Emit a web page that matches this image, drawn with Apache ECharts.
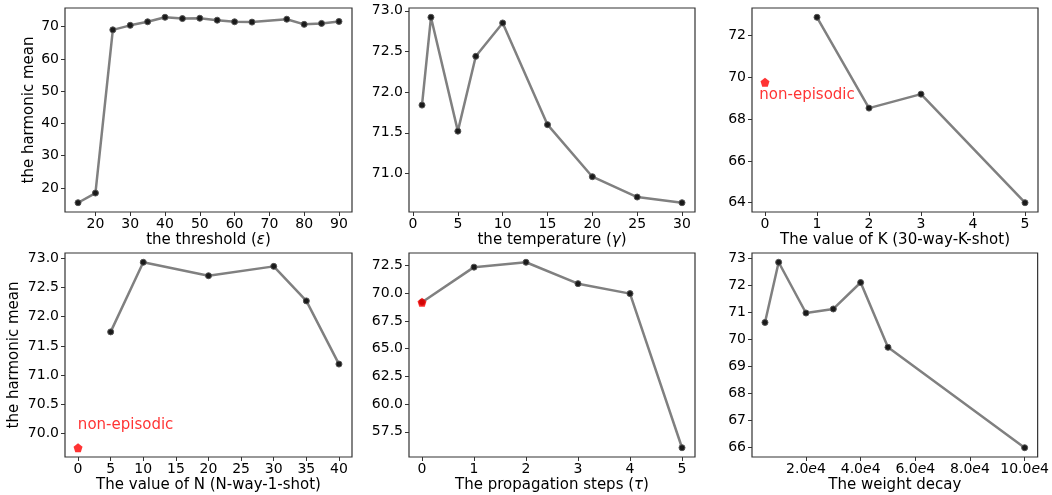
<!DOCTYPE html>
<html>
<head>
<meta charset="utf-8">
<script src="https://cdn.jsdelivr.net/npm/echarts@6/dist/echarts.min.js"></script>
<style>html,body{margin:0;padding:0;background:#fff}#c{width:1052px;height:495px}</style>
</head>
<body>
<div id="c"></div>
<script>
// ---- data ----
const thresholdX = [15,20,25,30,35,40,45,50,55,60,65,75,80,85,90];
const thresholdY = [15.4,18.4,69.0,70.4,71.5,72.9,72.5,72.6,72.0,71.5,71.4,72.3,70.7,71.0,71.6];
const temperatureX = [1,2,5,7,10,15,20,25,30];
const temperatureY = [71.84,72.92,71.52,72.44,72.85,71.60,70.96,70.71,70.64];
const kShotX = [1,2,3,5];
const kShotY = [72.88,68.53,69.20,64.00];
const kNonEpisodic = [0, 69.77];
const nWayX = [5,10,20,30,35,40];
const nWayY = [71.74,72.93,72.70,72.86,72.27,71.19];
const nNonEpisodic = [0, 69.76];
const stepsX = [0,1,2,3,4,5];
const stepsY = [69.19,72.36,72.80,70.87,69.97,56.06];
const stepsNonEpisodic = [0, 69.19];
const decayX = [0.5,1,2,3,4,5,10];
const decayY = [70.63,72.86,70.98,71.13,72.11,69.71,65.99];

// tick labels
const ticks1X = [20,30,40,50,60,70,80,90], ticks1Y = [20,30,40,50,60,70];
const ticks2X = [0,5,10,15,20,25,30], ticks2Y = [71.0,71.5,72.0,72.5,73.0];
const ticks3X = [0,1,2,3,4,5], ticks3Y = [64,66,68,70,72];
const ticks4X = [0,5,10,15,20,25,30,35,40], ticks4Y = [70.0,70.5,71.0,71.5,72.0,72.5,73.0];
const ticks5X = [0,1,2,3,4,5], ticks5Y = [57.5,60.0,62.5,65.0,67.5,70.0,72.5];
const ticks6X = [2,4,6,8,10], ticks6Y = [66,67,68,69,70,71,72,73];

const xNames = ['the threshold ({i|ε})','the temperature ({i|γ})','The value of K (30-way-K-shot)',
  'The value of N (N-way-1-shot)','The propagation steps ({i|τ})','The weight decay'];
const yName = 'the harmonic mean';
const annotText = 'non-episodic';

// ---- layout ----
const grids = [
  {left:65, top:8, width:287, height:204},
  {left:409, top:8, width:286, height:204},
  {left:752, top:8, width:286, height:204},
  {left:65, top:253, width:287, height:204},
  {left:409, top:253, width:286, height:204},
  {left:752, top:253, width:286, height:204}
];
function pad(a, b){ const d=(b-a)*0.05; return [a-d, b+d]; }
const xr = [pad(15,90), pad(1,30), pad(0,5), pad(0,40), pad(0,5), pad(0.5,10)];
const yr = [pad(15.4,72.9), pad(70.64,72.92), pad(64,72.88), pad(69.76,72.93), pad(56.06,72.8), pad(65.99,72.86)];
const xt = [ticks1X,ticks2X,ticks3X,ticks4X,ticks5X,ticks6X];
const yt = [ticks1Y,ticks2Y,ticks3Y,ticks4Y,ticks5Y,ticks6Y];
const yFmt = [v=>String(v), v=>v.toFixed(1), v=>String(v), v=>v.toFixed(1), v=>v.toFixed(1), v=>String(v)];
const xFmt = [v=>String(v),v=>String(v),v=>String(v),v=>String(v),v=>String(v), v=>v.toFixed(1)+'{i|e}4'];
const FONT = 'DejaVu Sans';
const TXT = '#000';
const italic = {i:{fontStyle:'italic', fontFamily:FONT, fontSize:14, color:TXT}};
const italicN = {i:{fontStyle:'italic', fontFamily:FONT, fontSize:15, color:TXT}};

const xAxis = grids.map((g,i)=>({
  type:'value', gridIndex:i, min:xr[i][0], max:xr[i][1], position:'bottom',
  splitLine:{show:false}, axisLine:{show:false, onZero:false},
  axisTick:{show:true, length:4, inside:false, customValues:xt[i], lineStyle:{color:'#333', width:1}},
  axisLabel:{customValues:xt[i], formatter:xFmt[i], margin:5, fontFamily:FONT, fontSize:14, color:TXT, rich:italic, hideOverlap:false, showMinLabel:true, showMaxLabel:true},
  name:xNames[i], nameLocation:'middle', nameGap:21,
  nameTextStyle:{fontFamily:FONT, fontSize:15, color:TXT, rich:italicN}
}));
const yAxis = grids.map((g,i)=>({
  type:'value', gridIndex:i, min:yr[i][0], max:yr[i][1], position:'left',
  splitLine:{show:false}, axisLine:{show:false, onZero:false},
  axisTick:{show:true, length:4, customValues:yt[i], lineStyle:{color:'#333', width:1}},
  axisLabel:{customValues:yt[i], formatter:yFmt[i], margin:6, fontFamily:FONT, fontSize:14, color:TXT, showMinLabel:true, showMaxLabel:true},
  name:(i===0||i===3)?yName:'', nameLocation:'middle', nameRotate:90, nameGap:(i===0?28:43),
  nameTextStyle:{fontFamily:FONT, fontSize:15, color:TXT}
}));

const xs = [thresholdX,temperatureX,kShotX,nWayX,stepsX,decayX];
const ys = [thresholdY,temperatureY,kShotY,nWayY,stepsY,decayY];
const pentagon = 'path://M0,-1 L0.951,-0.309 L0.588,0.809 L-0.588,0.809 L-0.951,-0.309 Z';

const series = xs.map((x,i)=>({
  type:'line', xAxisIndex:i, yAxisIndex:i,
  data:x.map((v,j)=>[v, ys[i][j]]),
  symbol:'circle', symbolSize:6, showAllSymbol:true,
  itemStyle:{color:'#1a1a1a', borderColor:'#555', borderWidth:1},
  lineStyle:{color:'#808080', width:2.5},
  silent:true, animation:false, z:2
}));
[[2,kNonEpisodic],[3,nNonEpisodic],[4,stepsNonEpisodic]].forEach(([i,p])=>{
  series.push({type:'scatter', xAxisIndex:i, yAxisIndex:i, data:[p],
    symbol:pentagon, symbolSize:9, itemStyle:{color:'#ff0000'}, z:5, animation:false, silent:true});
});
// annotation text anchors (left-middle of text)
const annots = [[2,[-0.1,69.15]],[3,[0.05,70.13]]];
annots.forEach(([i,p])=>{
  series.push({type:'scatter', xAxisIndex:i, yAxisIndex:i, data:[p],
    symbolSize:1, itemStyle:{color:'rgba(0,0,0,0)'}, z:6, animation:false, silent:true,
    label:{show:true, position:[0,0], align:'left', verticalAlign:'middle', formatter:annotText,
      fontFamily:FONT, fontSize:15, color:'#ff0000'}});
});

const chart = echarts.init(document.getElementById('c'), null, {renderer:'canvas'});
chart.setOption({
  animation:false,
  grid: grids.map(g=>Object.assign({show:true, borderColor:'#333', borderWidth:1.2, backgroundColor:'#fff', containLabel:false}, g)),
  xAxis, yAxis, series
});
</script>
</body>
</html>
